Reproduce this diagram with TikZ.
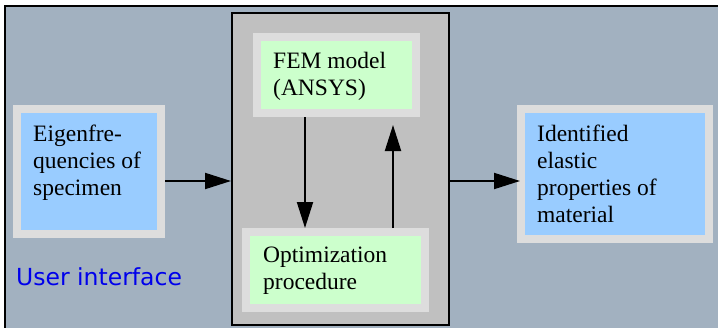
\documentclass[tikz,border=0pt]{standalone}
\usepackage{fontspec}
\setmainfont{Liberation Serif}
\newfontfamily\uifont{DejaVu Sans}
\usetikzlibrary{arrows.meta}
\definecolor{framebg}{RGB}{162,177,192}
\definecolor{corebg}{RGB}{192,192,192}
\definecolor{rim}{RGB}{221,221,221}
\definecolor{skyfill}{RGB}{153,204,255}
\definecolor{mintfill}{RGB}{204,255,204}
\definecolor{uiblue}{RGB}{0,0,235}
\tikzset{
  panel/.style={draw=rim, line width=8pt, inner sep=0pt, rectangle},
  inputbox/.style={panel, fill=skyfill},
  calcbox/.style={panel, fill=mintfill},
  core/.style={draw=black, line width=2pt, fill=corebg, inner sep=0pt},
  % anchored at the baseline of the last line
  label/.style={anchor=base west, align=left, inner sep=0pt,
    font=\fontsize{23.5}{27}\selectfont},
  flow/.style={line width=2pt, -{Triangle[length=26pt,width=16pt]}}
}
\begin{document}
\begin{tikzpicture}[x=1pt,y=-1pt]
  \useasboundingbox (0,0) rectangle (718,327);
  \clip (0,0) rectangle (718,327);
  % outer user-interface frame
  \path[fill=framebg, draw=black, line width=2pt] (5,6) rectangle (740,340);
  % solver block
  \node[core, minimum width=217pt, minimum height=312pt] (solver) at (340.5,169) {};
  % boxes
  \node[inputbox, minimum width=144pt, minimum height=125pt] (eig) at (89,171.5) {};
  \node[calcbox, minimum width=159pt, minimum height=76pt] (fem) at (336.5,75) {};
  \node[calcbox, minimum width=179pt, minimum height=76pt] (opt) at (335.5,270) {};
  \node[inputbox, minimum width=188pt, minimum height=130pt] (res) at (615,174) {};
  % texts
  \node[label] (eigtxt) at (33,195) {Eigenfre-\\quencies of\\specimen};
  \node[label] (femtxt) at (273,95) {FEM model\\(ANSYS)};
  \node[label] (opttxt) at (263,289) {Optimization\\procedure};
  \node[label] (restxt) at (537,222) {Identified\\elastic\\properties of\\material};
  \node[anchor=base west, inner sep=0pt, text=uiblue,
    font=\uifont\fontsize{23.5}{27}\selectfont] (ui) at (16,285) {User interface};
  % connectors
  \coordinate (row) at (0,181);
  \coordinate (downx) at (305,0);
  \coordinate (upend) at (393,125);
  \draw[flow] (eig.east |- row) -- (solver.west |- row);
  \draw[flow] (solver.east |- row) -- ([xshift=3pt]res.west |- row);
  \draw[flow] (fem.south -| downx) -- (opt.north -| downx);
  \draw[flow] (opt.north -| upend) -- (upend);
\end{tikzpicture}
\end{document}
